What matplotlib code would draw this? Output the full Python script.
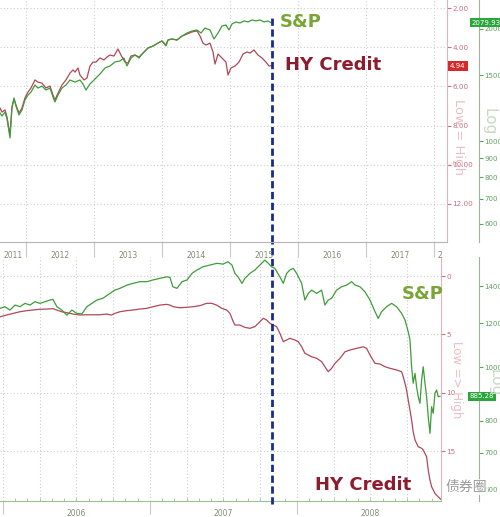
import matplotlib
matplotlib.use("Agg")
import matplotlib.pyplot as plt
from matplotlib.ticker import FixedLocator, NullLocator, NullFormatter
import matplotlib.transforms as mtransforms

plt.rcParams['font.family'] = ['DejaVu Sans', 'Noto Sans CJK SC']

# ---------------- DATA ----------------
# Top panel (2011-2015): decimal-year dates
top_spx_dates = [2011.618, 2011.647, 2011.691, 2011.721, 2011.765, 2011.794, 2011.824, 2011.853, 2011.897,
                 2011.941, 2011.985, 2012.029, 2012.074, 2012.132, 2012.176, 2012.235, 2012.294, 2012.353,
                 2012.397, 2012.426, 2012.471, 2012.529, 2012.588, 2012.647, 2012.721, 2012.794, 2012.838,
                 2012.882, 2012.941, 2013.015, 2013.088, 2013.162, 2013.235, 2013.309, 2013.382, 2013.441,
                 2013.485, 2013.544, 2013.603, 2013.662, 2013.721, 2013.794, 2013.868, 2013.941, 2014.000,
                 2014.059, 2014.088, 2014.147, 2014.221, 2014.294, 2014.368, 2014.441, 2014.515, 2014.574,
                 2014.632, 2014.706, 2014.765, 2014.824, 2014.882, 2014.941, 2014.985, 2015.029, 2015.088,
                 2015.147, 2015.206, 2015.265, 2015.324, 2015.382, 2015.441, 2015.500, 2015.559, 2015.603]
top_spx = [1189, 1167, 1196, 1146, 1019, 1227, 1305, 1242, 1175,
           1211, 1289, 1329, 1354, 1414, 1388, 1405, 1371, 1388,
           1313, 1273, 1329, 1388, 1414, 1459, 1440, 1459, 1423,
           1371, 1423, 1468, 1514, 1571, 1591, 1631, 1641, 1671,
           1591, 1671, 1703, 1671, 1724, 1778, 1800, 1834, 1857,
           1800, 1868, 1880, 1868, 1915, 1951, 1975, 1988, 1951,
           2012, 1988, 1880, 1951, 2037, 2050, 1988, 2063, 2089,
           2076, 2102, 2089, 2115, 2102, 2115, 2089, 2102, 2079.93]

top_hy_dates = [2011.618, 2011.647, 2011.691, 2011.721, 2011.765, 2011.794, 2011.824, 2011.853, 2011.897,
                2011.941, 2011.985, 2012.029, 2012.074, 2012.132, 2012.176, 2012.235, 2012.294, 2012.353,
                2012.397, 2012.426, 2012.471, 2012.529, 2012.588, 2012.647, 2012.691, 2012.721, 2012.765,
                2012.794, 2012.853, 2012.897, 2012.941, 2012.985, 2013.029, 2013.088, 2013.147, 2013.191,
                2013.235, 2013.294, 2013.353, 2013.397, 2013.456, 2013.500, 2013.544, 2013.603, 2013.662,
                2013.721, 2013.794, 2013.868, 2013.941, 2014.000, 2014.059, 2014.088, 2014.147, 2014.221,
                2014.294, 2014.368, 2014.441, 2014.515, 2014.559, 2014.603, 2014.647, 2014.706, 2014.750,
                2014.779, 2014.824, 2014.882, 2014.941, 2014.971, 2015.015, 2015.074, 2015.132, 2015.191,
                2015.250, 2015.294, 2015.353, 2015.412, 2015.471, 2015.529, 2015.574, 2015.603]
top_hy = [7.10, 7.31, 7.20, 7.56, 8.48, 7.05, 6.64, 6.95, 7.36,
          7.10, 6.59, 6.29, 6.08, 5.67, 5.78, 5.83, 6.08, 5.98,
          6.44, 6.69, 6.34, 5.93, 5.67, 5.32, 5.16, 5.27, 5.06,
          5.42, 5.67, 5.57, 4.96, 4.76, 4.76, 4.55, 4.65, 4.50,
          4.40, 4.45, 4.09, 4.40, 4.76, 4.81, 4.45, 4.40, 4.50,
          4.30, 4.04, 3.94, 3.79, 3.68, 3.89, 3.63, 3.58, 3.63,
          3.43, 3.33, 3.22, 3.17, 3.43, 3.79, 3.89, 3.79, 4.24,
          4.86, 4.35, 4.55, 4.76, 5.42, 5.06, 4.96, 4.76, 4.35,
          4.24, 4.30, 4.14, 4.40, 4.55, 4.76, 4.96, 4.94]

# Bottom panel (2006-2008)
bot_spx_dates = [2005.980, 2006.014, 2006.048, 2006.082, 2006.116, 2006.150, 2006.184, 2006.218, 2006.252,
                 2006.286, 2006.320, 2006.340, 2006.367, 2006.401, 2006.435, 2006.469, 2006.503, 2006.537,
                 2006.571, 2006.605, 2006.639, 2006.680, 2006.728, 2006.762, 2006.796, 2006.844, 2006.884,
                 2006.932, 2006.980, 2007.020, 2007.068, 2007.116, 2007.136, 2007.156, 2007.184, 2007.218,
                 2007.252, 2007.286, 2007.320, 2007.361, 2007.408, 2007.456, 2007.497, 2007.531, 2007.558,
                 2007.578, 2007.599, 2007.626, 2007.646, 2007.680, 2007.714, 2007.748, 2007.782, 2007.805,
                 2007.828, 2007.850, 2007.884, 2007.907, 2007.930, 2007.952, 2007.975, 2007.998, 2008.032,
                 2008.054, 2008.077, 2008.100, 2008.134, 2008.168, 2008.190, 2008.213, 2008.236, 2008.270,
                 2008.304, 2008.338, 2008.372, 2008.395, 2008.429, 2008.463, 2008.497, 2008.531, 2008.553,
                 2008.576, 2008.610, 2008.644, 2008.678, 2008.712, 2008.735, 2008.757, 2008.769, 2008.780,
                 2008.791, 2008.803, 2008.814, 2008.825, 2008.837, 2008.848, 2008.859, 2008.871, 2008.882,
                 2008.893, 2008.905, 2008.916, 2008.927, 2008.939, 2008.950, 2008.961, 2008.973]
bot_spx = [1276, 1285, 1267, 1294, 1285, 1303, 1294, 1312, 1303,
           1312, 1321, 1325, 1285, 1267, 1241, 1267, 1250, 1247,
           1285, 1303, 1321, 1331, 1358, 1377, 1387, 1406, 1416,
           1426, 1426, 1436, 1446, 1455, 1452, 1396, 1387, 1426,
           1436, 1476, 1497, 1517, 1528, 1539, 1534, 1549, 1528,
           1476, 1455, 1416, 1446, 1476, 1497, 1528, 1560, 1539,
           1517, 1507, 1455, 1416, 1476, 1497, 1507, 1476, 1416,
           1321, 1358, 1377, 1358, 1377, 1294, 1321, 1331, 1377,
           1396, 1406, 1426, 1406, 1396, 1367, 1321, 1259, 1224,
           1259, 1285, 1303, 1285, 1250, 1216, 1158, 1119, 1001,
           935, 974, 921, 884, 860, 947, 1001, 935, 884,
           814, 759, 848, 825, 897, 909, 884, 885.28]

bot_hy_dates = [2005.980, 2006.025, 2006.070, 2006.116, 2006.161, 2006.206, 2006.252, 2006.297, 2006.342,
                2006.365, 2006.399, 2006.433, 2006.478, 2006.524, 2006.569, 2006.614, 2006.660, 2006.705,
                2006.739, 2006.762, 2006.796, 2006.841, 2006.886, 2006.932, 2006.978, 2007.022, 2007.068,
                2007.114, 2007.136, 2007.159, 2007.204, 2007.250, 2007.295, 2007.340, 2007.386, 2007.420,
                2007.454, 2007.488, 2007.522, 2007.544, 2007.567, 2007.578, 2007.612, 2007.646, 2007.680,
                2007.714, 2007.748, 2007.771, 2007.794, 2007.816, 2007.839, 2007.862, 2007.884, 2007.907,
                2007.930, 2007.952, 2007.986, 2008.009, 2008.032, 2008.054, 2008.077, 2008.100, 2008.134,
                2008.168, 2008.190, 2008.213, 2008.236, 2008.259, 2008.293, 2008.327, 2008.361, 2008.406,
                2008.451, 2008.474, 2008.497, 2008.531, 2008.565, 2008.599, 2008.633, 2008.678, 2008.712,
                2008.723, 2008.735, 2008.746, 2008.757, 2008.769, 2008.780, 2008.791, 2008.803, 2008.825,
                2008.848, 2008.859, 2008.882, 2008.893, 2008.905, 2008.916, 2008.939, 2008.961, 2008.984]
bot_hy = [3.49, 3.34, 3.20, 3.06, 2.97, 2.91, 2.85, 2.83, 2.80,
          2.91, 3.06, 3.14, 3.26, 3.34, 3.32, 3.32, 3.32, 3.26,
          3.34, 3.20, 3.06, 2.97, 2.91, 2.83, 2.77, 2.63, 2.49,
          2.43, 2.49, 2.63, 2.72, 2.68, 2.63, 2.54, 2.34, 2.34,
          2.49, 2.77, 2.91, 3.20, 3.92, 4.20, 4.20, 4.40, 4.48,
          4.34, 3.92, 3.62, 3.77, 4.05, 4.20, 4.34, 4.91, 5.63,
          5.48, 5.34, 5.48, 5.63, 6.06, 6.62, 6.77, 6.92, 7.05,
          7.34, 7.77, 8.20, 7.91, 7.48, 7.05, 6.49, 6.34, 6.20,
          6.06, 6.20, 6.77, 7.48, 7.54, 7.77, 7.91, 8.05, 8.20,
          8.63, 9.19, 9.77, 10.63, 11.48, 12.34, 13.34, 14.05, 14.63,
          14.76, 14.91, 15.48, 16.62, 17.48, 18.05, 18.63, 18.92, 19.19]

top_event = 2015.62   # blue marker date (top panel)
bot_event = 2007.83   # same marker in the 2007 analogue
top_year_labels = ['2011', '2012', '2013', '2014', '2015', '2016', '2017', '2']
top_year_label_pos = [2011.81, 2012.5, 2013.5, 2014.5, 2015.5, 2016.5, 2017.5, 2018.09]
bot_year_labels = ['2006', '2007', '2008']
top_hy_ticks = [2, 4, 6, 8, 10, 12]
top_spx_ticks = [600, 700, 800, 900, 1000, 1500, 2000]
bot_hy_ticks = [0, 5, 10, 15]
bot_spx_ticks = [600, 700, 800, 1000, 1200, 1400]

# ---------------- STYLE ----------------
GREEN = '#3f9c3a'
RED = '#b04858'
SP_TXT = '#78a536'
HY_TXT = '#8b1d2e'
BLUE = '#1b2a8c'
GRID = '#cfcfcf'
RED_TICK = '#c87080'
GREEN_TICK = '#5f9f5f'
XLAB = '#7d8f72'

W, H = 500, 517
fig = plt.figure(figsize=(W / 100, H / 100), dpi=100)
fig.patch.set_facecolor('white')


def frac_rect(x0, y0, x1, y1):
    return [x0 / W, 1 - y1 / H, (x1 - x0) / W, (y1 - y0) / H]


def style_panel(ax, tw, hy_ticks, hy_fmt, spx_ticks, outward):
    for s in ['left', 'top']:
        ax.spines[s].set_visible(False)
    ax.spines['right'].set_color('#d9b5bc')
    ax.spines['bottom'].set_color('#b5b5b5')
    ax.yaxis.tick_right()
    ax.yaxis.set_major_locator(FixedLocator(hy_ticks))
    ax.set_yticklabels([hy_fmt(v) for v in hy_ticks])
    ax.tick_params(axis='y', which='major', direction='out', length=3, width=0.8,
                   colors=RED_TICK, labelsize=5.2, pad=1)
    ax.yaxis.set_minor_locator(NullLocator())
    ax.grid(axis='y', color=GRID, linestyle=(0, (1, 2)), linewidth=0.8)

    tw.set_yscale('log')
    for s in ['left', 'top', 'bottom']:
        tw.spines[s].set_visible(False)
    tw.spines['right'].set_position(('outward', outward))
    tw.spines['right'].set_color('#9fb59a')
    tw.yaxis.set_major_locator(FixedLocator(spx_ticks))
    tw.yaxis.set_minor_locator(NullLocator())
    tw.yaxis.set_minor_formatter(NullFormatter())
    tw.set_yticklabels([str(v) for v in spx_ticks])
    tw.tick_params(axis='y', which='major', direction='out', length=3, width=0.8,
                   colors=GREEN_TICK, labelsize=5.0, pad=1)


# ---------- bottom panel (2006-2008) ----------
axb = fig.add_axes(frac_rect(0, 257, 441, 501))
axb.set_xlim(2005.980, 2008.980)
axb.set_ylim(19.28, -1.63)
twb = axb.twinx()
twb.set_ylim(573, 1580)
style_panel(axb, twb, bot_hy_ticks, lambda v: str(v), bot_spx_ticks, 27)
axb.spines['bottom'].set_color('#9cc28c')
axb.xaxis.set_major_locator(FixedLocator([2006, 2007, 2008]))
axb.xaxis.set_major_formatter(NullFormatter())
axb.xaxis.set_minor_locator(FixedLocator([2006 + m / 12 for m in range(-1, 36)]))
axb.tick_params(axis='x', which='major', direction='out', length=9, width=0.8, colors='#c8c8c8')
axb.tick_params(axis='x', which='minor', direction='in', length=2.5, width=0.6, colors='#b0b0b0')
for q in range(0, 12):
    axb.axvline(2006 + q * 0.25, color=GRID, linestyle=(0, (1, 2)), linewidth=0.8, zorder=0)
tb = mtransforms.blended_transform_factory(axb.transData, axb.transAxes)
for i, lab in enumerate(bot_year_labels):
    axb.text(2006.5 + i, -0.052, lab, transform=tb, ha='center', va='center',
             fontsize=5.5, color=XLAB)

axb.plot(bot_hy_dates, bot_hy, color=RED, lw=0.9, zorder=3)
twb.plot(bot_spx_dates, bot_spx, color=GREEN, lw=0.9, zorder=3)
twb.annotate('885.28', xy=(470 / W, bot_spx[-1]), xycoords=('figure fraction', 'data'),
             ha='left', va='center', fontsize=5, color='white', annotation_clip=False,
             bbox=dict(boxstyle='square,pad=0.25', fc='#2aa63a', ec='none'))

axb.text(0.912, 0.848, 'S&P', transform=axb.transAxes, fontsize=13, fontweight='bold',
         color=SP_TXT, ha='left', va='center', zorder=6, clip_on=False)
axb.text(0.714, 0.066, 'HY Credit', transform=axb.transAxes, fontsize=13, fontweight='bold',
         color=HY_TXT, ha='left', va='center', zorder=6, clip_on=False)
axb.axvline(bot_event, ymin=-0.012, ymax=1.07, color=BLUE, lw=2.0,
            linestyle=(0, (2.6, 1.3)), clip_on=False, zorder=5)

# ---------- top panel (2011-2015) ----------
axt = fig.add_axes(frac_rect(0, 0, 447, 242))
axt.set_zorder(3)
axt.set_xlim(2011.618, 2018.191)
axt.set_ylim(13.94, 1.59)
twt = axt.twinx()
twt.set_zorder(4)
twt.set_ylim(535.4, 2393)
style_panel(axt, twt, top_hy_ticks, lambda v: f'{v:.2f}', top_spx_ticks, 23)
axt.xaxis.set_major_locator(FixedLocator(list(range(2012, 2019))))
axt.xaxis.set_major_formatter(NullFormatter())
axt.tick_params(axis='x', which='major', direction='out', length=11, width=0.8, colors='#c8c8c8')
axt.grid(axis='x', color=GRID, linestyle=(0, (1, 2)), linewidth=0.8)
tt = mtransforms.blended_transform_factory(axt.transData, axt.transAxes)
for lab, pos in zip(top_year_labels, top_year_label_pos):
    axt.text(pos, -0.054, lab, transform=tt, ha='center', va='center', fontsize=5.5, color=XLAB)

axt.plot(top_hy_dates, top_hy, color=RED, lw=0.9, zorder=3)
twt.plot(top_spx_dates, top_spx, color=GREEN, lw=0.9, zorder=3)
twt.annotate('2079.93', xy=(472 / W, top_spx[-1]), xycoords=('figure fraction', 'data'),
             ha='left', va='center', fontsize=5, color='white', annotation_clip=False,
             bbox=dict(boxstyle='square,pad=0.25', fc='#2aa63a', ec='none'))
axt.annotate('4.94', xy=(450 / W, top_hy[-1]), xycoords=('figure fraction', 'data'),
             ha='left', va='center', fontsize=5, color='white', annotation_clip=False,
             bbox=dict(boxstyle='square,pad=0.3', fc='#d42a2a', ec='none'))

twt.text(0.626, 0.909, 'S&P', transform=axt.transAxes, fontsize=13, fontweight='bold',
         color=SP_TXT, ha='left', va='center', zorder=6)
twt.text(0.638, 0.731, 'HY Credit', transform=axt.transAxes, fontsize=13, fontweight='bold',
         color=HY_TXT, ha='left', va='center', zorder=6)
twt.axvline(top_event, ymin=0, ymax=0.938, color=BLUE, lw=2.0,
            linestyle=(0, (2.6, 1.3)), zorder=5)

# axis titles
fig.text(459 / W, 1 - 137 / H, 'Low = High', rotation=270, ha='center', va='center',
         fontsize=9.5, color='#ebbdc5')
fig.text(489 / W, 1 - 122 / H, 'Log', rotation=270, ha='center', va='center',
         fontsize=11, color='#c9d9c4')
fig.text(456 / W, 1 - 380 / H, 'Low => High', rotation=270, ha='center', va='center',
         fontsize=8.5, color='#ebbdc5')
fig.text(495 / W, 1 - 383 / H, 'Log', rotation=270, ha='center', va='center',
         fontsize=11, color='#c9d9c4')

# watermark
fig.text(466 / W, 1 - 487 / H, '债券圈', ha='center', va='center', fontsize=10,
         color='#9a9a9a', family=['Noto Sans CJK SC', 'DejaVu Sans'],
         bbox=dict(boxstyle='square,pad=0.1', fc='white', ec='none', alpha=0.8), zorder=10)

fig.savefig('out.png', dpi=100, facecolor='white')
